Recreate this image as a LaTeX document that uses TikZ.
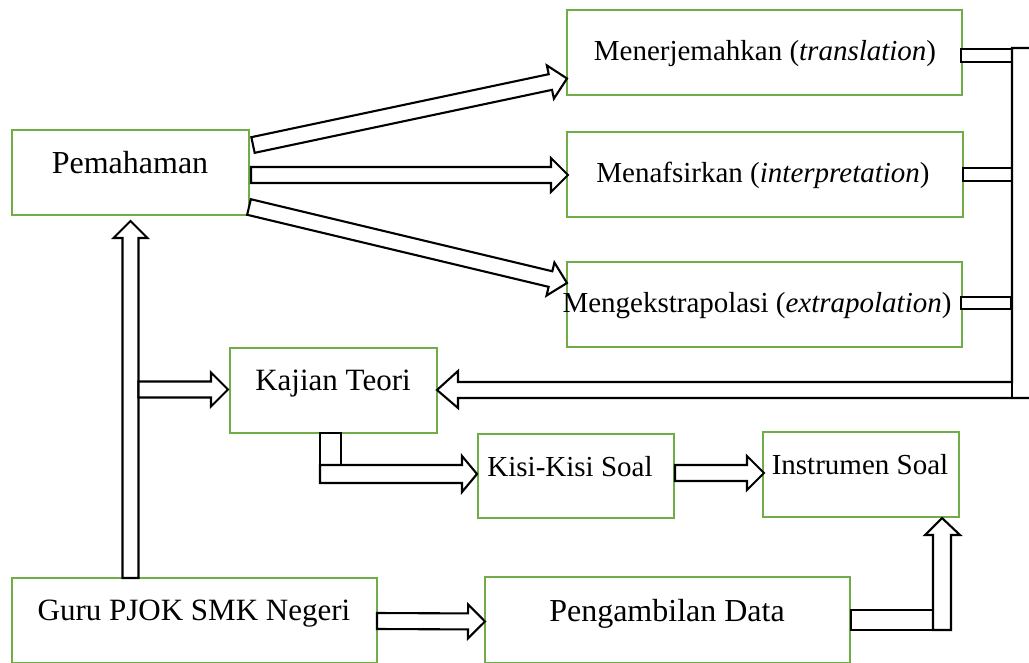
\documentclass[tikz,border=0pt]{standalone}
\usepackage{fontspec}
\setmainfont{Liberation Serif}
\usetikzlibrary{calc}
\definecolor{boxgreen}{HTML}{70AD47}
\tikzset{
  box/.style={draw=boxgreen, line width=2pt, fill=white, anchor=north west, inner sep=0pt, outer sep=0pt},
  txtL/.style={anchor=base, inner sep=0pt, font=\fontsize{32}{36}\selectfont},
  txtM/.style={anchor=base, inner sep=0pt, font=\fontsize{31}{35}\selectfont},
  txtS/.style={anchor=base, inner sep=0pt, font=\fontsize{29}{33}\selectfont},
  barrow/.style={draw=black, line width=2.1pt, fill=white, line join=miter},
  bline/.style={draw=black, line width=2.1pt},
}
\newcommand{\blockarr}[2]{%
  \path ($(#2)!17pt!(#1)$) coordinate (hbx);
  \draw[barrow] ($(#1)!8pt!90:(#2)$) -- ($(hbx)!8pt!90:(#2)$) -- ($(hbx)!17pt!90:(#2)$) -- (#2)
    -- ($(hbx)!17pt!-90:(#2)$) -- ($(hbx)!8pt!-90:(#2)$) -- ($(#1)!8pt!-90:(#2)$) -- cycle;
}
\begin{document}
\begin{tikzpicture}[x=1pt, y=-1pt]
\useasboundingbox (0,0) rectangle (1029,662);
\fill[white] (0,0) rectangle (1029,662);

% boxes
\node[box, minimum width=395pt, minimum height=85pt] (ter) at (567,9.5) {};
\node[box, minimum width=396pt, minimum height=85pt] (taf) at (567,132) {};
\node[box, minimum width=395pt, minimum height=85pt] (eks) at (567,262) {};
\node[box, minimum width=237pt, minimum height=85pt] (pem) at (12,130) {};
\node[box, minimum width=207pt, minimum height=85pt] (kaj) at (230,348) {};
\node[box, minimum width=196pt, minimum height=84pt] (kisi) at (478,434) {};
\node[box, minimum width=196pt, minimum height=85pt] (inst) at (763,432) {};
\node[box, minimum width=365pt, minimum height=85pt] (guru) at (12,578) {};
\node[box, minimum width=365pt, minimum height=86pt] (peng) at (485,577) {};

% texts
\node[txtS] (tter) at (765,60) {Menerjemahkan (\textit{translation})};
\node[txtS] (ttaf) at (763,182) {Menafsirkan (\textit{interpretation})};
\node[txtS] (teks) at (757,312) {Mengekstrapolasi (\textit{extrapolation})};
\node[txtL] (tpem) at (130,173) {Pemahaman};
\node[txtM] (tkaj) at (333,390) {Kajian Teori};
\node[txtS] (tkisi) at (570,476) {Kisi-Kisi Soal};
\node[txtS] (tinst) at (860,474) {Instrumen Soal};
\node[txtM] (tguru) at (194,620) {Guru PJOK SMK Negeri};
\node[txtL] (tpeng) at (667,621) {Pengambilan Data};

% arrows from Pemahaman
\coordinate (a1s) at ($(pem.north east)+(4,15)$);
\coordinate (a1t) at ($(ter.south west)+(0,-16)$);
\blockarr{a1s}{a1t}
\coordinate (a2s) at ($(pem.east)+(2,2.5)$);
\coordinate (a2t) at ($(taf.west)+(1,0.5)$);
\blockarr{a2s}{a2t}
\coordinate (a3s) at ($(pem.south east)+(0,-8)$);
\coordinate (a3t) at ($(eks.north west)+(0,21)$);
\blockarr{a3s}{a3t}

% Guru up to Pemahaman
\coordinate (a4s) at (pem.south |- guru.north);
\coordinate (a4t) at ($(pem.south)+(0,6)$);
\blockarr{a4s}{a4t}
% branch to Kajian Teori
\coordinate (a5s) at ($(pem.south |- kaj.west)+(8,-1)$);
\coordinate (a5t) at ($(kaj.west)+(-2,-1)$);
\blockarr{a5s}{a5t}

% Kajian Teori to Kisi-Kisi Soal (elbow)
\coordinate (k1) at ($(kaj.south west)+(90,0)$);
\coordinate (k3) at ($(kisi.west)+(-1,-2)$);
\draw[barrow] (k1) rectangle ($(k1|-k3)+(21,-9)$);
\draw[barrow] ($(k1|-k3)+(0,-9)$) -- ($(k3)+(-15,-9)$) -- ($(k3)+(-15,-18)$) -- (k3)
  -- ($(k3)+(-15,18)$) -- ($(k3)+(-15,9)$) -- ($(k1|-k3)+(0,9)$) -- cycle;

% Kisi-Kisi Soal to Instrumen Soal
\coordinate (a6s) at ($(kisi.east)+(1,-3)$);
\coordinate (a6t) at ($(inst.west)+(1,-1.5)$);
\blockarr{a6s}{a6t}

% Guru to Pengambilan Data
\coordinate (a7s) at ($(guru.east)+(0,0.5)$);
\coordinate (a7t) at ($(peng.west)+(0,1.5)$);
\blockarr{a7s}{a7t}

% Pengambilan Data to Instrumen Soal (elbow)
\coordinate (p3) at ($(inst.south east)+(-17,1)$);
\coordinate (p1) at (p3 |- peng.east);
\draw[barrow] ($(peng.east)+(1,-10)$) rectangle ($(p1)+(-9,10)$);
\draw[barrow] ($(p1)+(-9,10)$) -- ($(p1)+(9,10)$) -- ($(p3)+(9,17)$) -- ($(p3)+(18,17)$) -- (p3)
  -- ($(p3)+(-17,17)$) -- ($(p3)+(-9,17)$) -- cycle;

% connectors from the three aspects to the right bracket
\draw[barrow] ($(ter.east)+(-1,-3)$) rectangle ++(51,13);
\draw[barrow] ($(taf.east)+(0,-6.5)$) rectangle ++(49,13);
\draw[barrow] ($(eks.east)+(-1,-7.5)$) rectangle ++(50,12);

% big return arrow to Kajian Teori
\coordinate (rt) at ($(kaj.east)+(0,-0.5)$);
\coordinate (brT) at (1012,48);
\coordinate (brE) at (1035,48);
\draw[barrow] (brE) -- (brT) -- (brT |- 0,382) -- ($(rt)+(21,-8)$) -- ($(rt)+(21,-19)$) -- (rt)
  -- ($(rt)+(21,18)$) -- ($(rt)+(21,8)$) -- (1035,398);
\draw[bline] (brT |- 0,382) -- (brT |- 0,398);
\end{tikzpicture}
\end{document}
